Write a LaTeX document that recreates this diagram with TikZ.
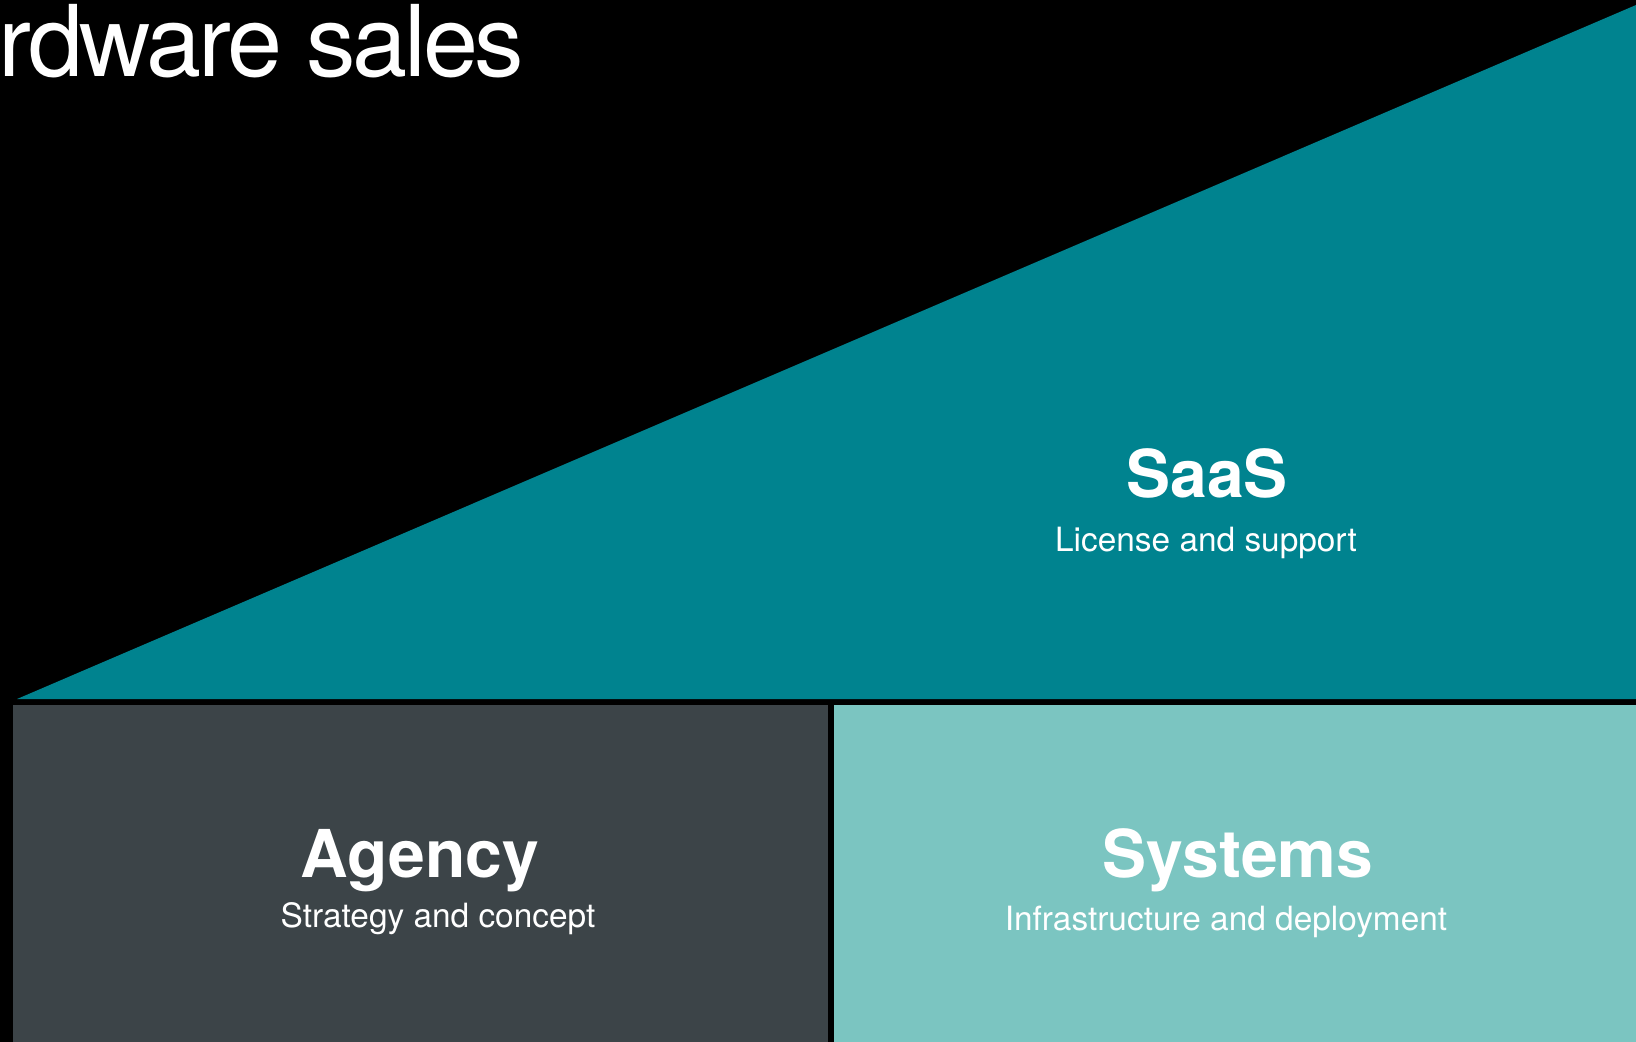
\documentclass[tikz,border=0pt]{standalone}
\usepackage{fontspec}
\setmainfont{TeX Gyre Heros}
\newfontfamily\titlefont[LetterSpace=-3.3]{TeX Gyre Heros}
\definecolor{saasteal}{HTML}{00838F}
\definecolor{agencygrey}{HTML}{3C4448}
\definecolor{systemsmint}{HTML}{7BC5C1}

\begin{document}
\begin{tikzpicture}[x=0.5pt, y=-0.5pt, inner sep=0pt, text=white,
		head/.style={font=\fontsize{33}{38}\selectfont\bfseries, anchor=base},
		sub/.style={font=\fontsize{16.7}{20}\selectfont, anchor=base}]
	\useasboundingbox (0,0) rectangle (1636,1042);
	\fill[black] (0,0) rectangle (1636,1042);
	% wedge on top, two blocks below it
	\fill[saasteal] (17,699) -- (1636,5) -- (1636,699) -- cycle;
	\fill[agencygrey] (13,705) rectangle (828,1042);
	\fill[systemsmint] (834,705) rectangle (1636,1042);
	\node[anchor=base west, font=\titlefont\fontsize{49.5}{56}\selectfont] (title) at (-2,77) {rdware sales};
	\foreach \n/\x/\y/\t in {saas/1207/497/SaaS, agency/420/877/Agency, systems/1238/877/Systems}
	\node[head] (\n) at (\x,\y) {\t};
	\foreach \n/\x/\y/\t in {license/1206/551/License and support, strategy/438/927/Strategy and concept, infra/1226/930/Infrastructure and deployment}
	\node[sub] (\n) at (\x,\y) {\t};
\end{tikzpicture}
\end{document}
